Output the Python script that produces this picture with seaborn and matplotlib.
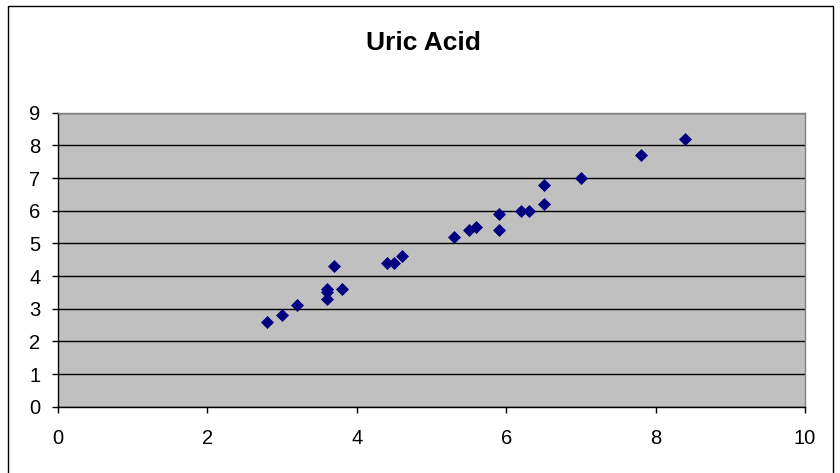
import matplotlib
matplotlib.use("Agg")
import matplotlib.pyplot as plt
import seaborn as sns
import pandas as pd
from matplotlib.patches import Rectangle

# 散布図のデータ
x_vals = [2.8, 3.0, 3.2, 3.6, 3.6, 3.6, 3.7, 3.8, 4.4, 4.5, 4.6, 5.3, 5.5, 5.6,
          5.9, 5.9, 6.2, 6.3, 6.5, 6.5, 7.0, 7.8, 8.4]
y_vals = [2.6, 2.8, 3.1, 3.6, 3.5, 3.3, 4.3, 3.6, 4.4, 4.4, 4.6, 5.2, 5.4, 5.5,
          5.9, 5.4, 6.0, 6.0, 6.8, 6.2, 7.0, 7.7, 8.2]
x_ticks = [0, 2, 4, 6, 8, 10]
y_ticks = [0, 1, 2, 3, 4, 5, 6, 7, 8, 9]
title = "Uric Acid"

plt.rcParams['font.family'] = ['Liberation Sans', 'DejaVu Sans']

df = pd.DataFrame({"x": x_vals, "y": y_vals})

fig = plt.figure(figsize=(8.4, 4.73), dpi=100)
ax = fig.add_axes([0.069, 0.1401, 0.8893, 0.6216])
ax.set_facecolor("#C0C0C0")

sns.scatterplot(data=df, x="x", y="y", marker="D", s=44, color="#000080",
                linewidth=0, ax=ax, zorder=3)

ax.set_xlim(0, 10)
ax.set_ylim(0, 9)
ax.set_xticks(x_ticks)
ax.set_yticks(y_ticks)
ax.set_xlabel("")
ax.set_ylabel("")

# 横のグリッド線のみ
ax.set_axisbelow(True)
ax.yaxis.grid(True, color="black", linewidth=1)
ax.xaxis.grid(False)

ax.spines["left"].set_color("black")
ax.spines["bottom"].set_color("black")
ax.spines["top"].set_color("#808080")
ax.spines["right"].set_color("#808080")
for s in ax.spines.values():
    s.set_linewidth(1)

ax.tick_params(axis="x", direction="out", length=4.3, width=1, pad=12,
               labelsize=14.5, colors="black")
ax.tick_params(axis="y", direction="out", length=4.3, width=1, pad=8.4,
               labelsize=14.5, colors="black")

fig.text(0.504, 1 - 50 / 473, title, ha="center", va="baseline",
         fontsize=19, fontweight="bold")

# 外枠
frame = Rectangle((8 / 840, -0.1), (833 - 8) / 840, 1 - 6 / 473 + 0.1,
                  transform=fig.transFigure, fill=False, edgecolor="black",
                  linewidth=1, clip_on=False)
fig.patches.append(frame)

fig.savefig("out.png", dpi=100)
